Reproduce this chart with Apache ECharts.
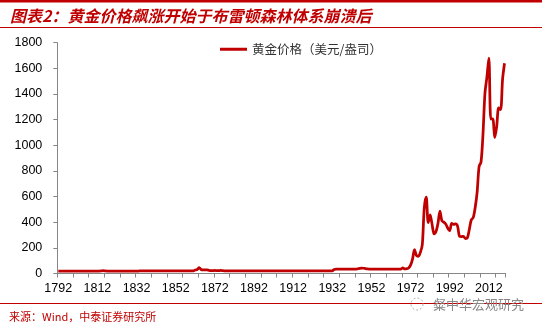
<!DOCTYPE html>
<html>
<head>
<meta charset="utf-8">
<script src="https://cdn.jsdelivr.net/npm/echarts@6/dist/echarts.min.js"></script>
<style>
html,body{margin:0;padding:0;background:#fff;}
#chart{width:542px;height:328px;}
</style>
</head>
<body>
<div id="chart"></div>
<script>
// ---- Data ----
const titleText = '图表2：黄金价格飙涨开始于布雷顿森林体系崩溃后';
const sourceText = '来源：Wind，中泰证券研究所';
const watermarkText = '粲中华宏观研究';
const seriesName = '黄金价格（美元/盎司）';

const firstYear = 1792;
const lastYear = 2020;
const years = [];
for (let y = firstYear; y <= lastYear; y++) years.push(String(y));

// Gold price, USD per ounce, one value per year
const price1792to1833 = [
  19.39, 19.39, 19.39, 19.39, 19.39, 19.39, 19.39, 19.39, 19.39, 19.39,
  19.39, 19.39, 19.39, 19.39, 19.39, 19.39, 19.39, 19.39, 19.39, 19.39,
  19.39, 19.39, 20.6, 21.5, 20.1, 19.39, 19.39, 19.39, 19.39, 19.39,
  19.39, 19.39, 19.39, 19.39, 19.39, 19.39, 19.39, 19.39, 19.39, 19.39,
  19.39, 19.39
];
const price1834to1861 = [
  20.67, 20.67, 20.67, 20.67, 20.67, 20.67, 20.67, 20.67, 20.67, 20.67,
  20.67, 20.67, 20.67, 20.67, 20.67, 20.67, 20.67, 20.67, 20.67, 20.67,
  20.67, 20.67, 20.67, 20.67, 20.67, 20.67, 20.67, 20.67
];
const price1862to1878 = [
  27.5, 31.4, 46.0, 30.0, 28.6, 28.3, 27.9, 24.9, 22.9, 22.6,
  23.4, 22.8, 23.0, 23.6, 22.0, 21.2, 20.7
];
const price1879to1932 = [
  20.67, 20.67, 20.67, 20.67, 20.67, 20.67, 20.67, 20.67, 20.67, 20.67,
  20.67, 20.67, 20.67, 20.67, 20.67, 20.67, 20.67, 20.67, 20.67, 20.67,
  20.67, 20.67, 20.67, 20.67, 20.67, 20.67, 20.67, 20.67, 20.67, 20.67,
  20.67, 20.67, 20.67, 20.67, 20.67, 20.67, 20.67, 20.67, 20.67, 20.67,
  20.67, 20.67, 20.67, 20.67, 20.67, 20.67, 20.67, 20.67, 20.67, 20.67,
  20.67, 20.67, 20.67, 20.67
];
const price1933to1967 = [
  32.0, 35, 35, 35, 35, 35, 35, 35, 35, 35,
  35, 35, 37, 40, 42, 41, 38, 36, 35, 35,
  35, 35, 35, 35, 35, 35, 35, 35, 35, 35,
  35, 35, 35, 35, 35
];
const price1968to2020 = [
  43.5, 35.2, 37.4, 43.6, 64.9, 112.3, 186.5, 140.3, 134.5, 165.0,
  226.0, 512.0, 595.0, 397.5, 456.9, 382.4, 308.3, 327.0, 390.9, 486.5,
  410.3, 401.0, 385.0, 353.2, 333.0, 391.8, 383.3, 387.0, 369.0, 290.2,
  287.8, 290.3, 272.7, 276.5, 342.8, 417.3, 435.6, 513.0, 632.0, 833.8,
  869.8, 1087.5, 1405.5, 1531.0, 1680.0, 1204.5, 1206.0, 1060.0, 1145.9, 1291.0,
  1279.0, 1514.8, 1640.0
];
const goldPrice = [].concat(price1792to1833, price1834to1861, price1862to1878,
  price1879to1932, price1933to1967, price1968to2020);

const yMin = 0, yMax = 1800, yStep = 200;

// ---- Chart ----
const RED = '#c00000';
const chart = echarts.init(document.getElementById('chart'), null, {renderer: 'canvas'});
const option = {
  backgroundColor: '#fff',
  animation: false,
  grid: {left: 57.3, right: 36.5, top: 42.7, bottom: 54.5, containLabel: false},
  legend: {
    data: [seriesName],
    left: 215, top: 38,
    icon: 'rect', itemWidth: 27, itemHeight: 3, itemGap: 4,
    textStyle: {fontFamily: 'Noto Sans CJK SC', fontSize: 12.5, color: '#333'}
  },
  xAxis: {
    type: 'category',
    data: years,
    boundaryGap: true,
    axisLine: {lineStyle: {color: '#868686', width: 1}},
    axisTick: {show: true, interval: 7, length: 4, lineStyle: {color: '#868686'}},
    axisLabel: {interval: 19, margin: 9, color: '#000', fontFamily: 'Liberation Sans', fontSize: 12.5},
    splitLine: {show: false}
  },
  yAxis: {
    type: 'value', min: yMin, max: yMax, interval: yStep,
    axisLine: {show: true, lineStyle: {color: '#868686', width: 1}},
    axisTick: {show: true, length: 4, lineStyle: {color: '#868686'}},
    axisLabel: {margin: 15, color: '#000', fontFamily: 'Liberation Sans', fontSize: 12.5,
      formatter: function (v) { return String(v); }},
    splitLine: {show: false}
  },
  series: [{
    name: seriesName,
    type: 'line',
    data: goldPrice,
    smooth: 0.3,
    showSymbol: false,
    lineStyle: {color: RED, width: 2.75},
    itemStyle: {color: RED}
  }],
  graphic: [
    {type: 'rect', shape: {x: 0, y: 0, width: 542, height: 2.5}, style: {fill: RED}},
    {type: 'text', x: 10, y: 16, style: {text: titleText, fill: RED,
      font: 'italic bold 16px "Noto Sans CJK SC"', textVerticalAlign: 'middle'}},
    {type: 'rect', shape: {x: 0, y: 27, width: 542, height: 1}, style: {fill: RED}},
    {type: 'rect', shape: {x: 0, y: 303, width: 542, height: 1}, style: {fill: RED}},
    {type: 'text', x: 9, y: 317, style: {text: sourceText, fill: RED,
      font: '11px "Noto Sans CJK SC"', textVerticalAlign: 'middle'}},
    {type: 'circle', shape: {cx: 417, cy: 304, r: 6}, style: {fill: 'none', stroke: '#aaa', lineWidth: 1, lineDash: [2, 2]}},
    {type: 'text', x: 433, y: 304, style: {text: watermarkText, fill: '#888',
      font: '13px "Noto Sans CJK SC"', textVerticalAlign: 'middle'}}
  ]
};
chart.setOption(option);
</script>
</body>
</html>
